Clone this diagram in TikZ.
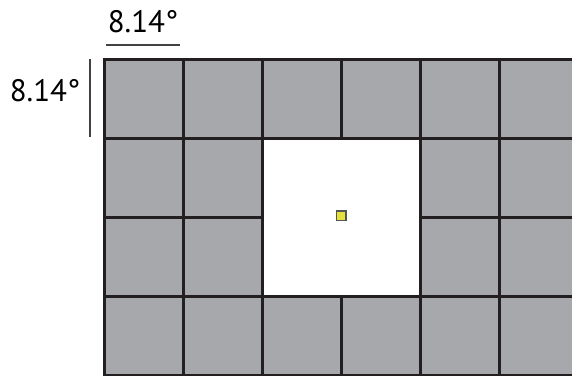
\documentclass[tikz,border=0pt]{standalone}
\usepackage{fontspec}
\setmainfont{PT Sans}
\definecolor{cellgray}{HTML}{A7A8AB}
\definecolor{gridline}{HTML}{231F20}
\definecolor{fixyellow}{HTML}{E6E03C}
\definecolor{fixborder}{HTML}{555555}
\begin{document}
\begin{tikzpicture}[x=1pt,y=-1pt,
  cell/.style={draw=gridline,fill=cellgray,line width=3.6pt,minimum size=79pt,inner sep=0pt,outer sep=0pt},
  hole/.style={draw=gridline,fill=white,line width=3.6pt,minimum size=158pt,inner sep=0pt,outer sep=0pt},
  fixpt/.style={draw=fixborder,fill=fixyellow,line width=1.4pt,minimum size=9.5pt,inner sep=0pt},
  dimline/.style={draw=gridline!85,line width=1.6pt},
  dimlabel/.style={font=\fontsize{31}{34}\selectfont,text=black,inner sep=0pt}]
\useasboundingbox (0,0) rectangle (572,375);
\fill[white] (0,0) rectangle (572,375);
\begin{scope}
\clip (0,0) rectangle (572,375);
\foreach \i in {0,...,5}{
  \foreach \j in {0,...,3}{
    \pgfmathtruncatemacro{\inhole}{(\i==2 || \i==3) && (\j==1 || \j==2) ? 1 : 0}
    \ifnum\inhole=0
      \node[cell] (c-\i-\j) at (144+79*\i,99+79*\j) {};
    \fi
  }
}
\node[hole] (hole) at (341.5,217.5) {};
\end{scope}
\node[fixpt] (fix) at (341.3,215.7) {};
\coordinate (ta) at (106,45);
\coordinate (tb) at (180,45);
\coordinate (la) at (90,59);
\coordinate (lb) at (90,137);
\draw[dimline] (ta) -- (tb);
\draw[dimline] (la) -- (lb);
\node[dimlabel] (toplabel) at (143,22) {8.14°};
\node[dimlabel] (leftlabel) at (45,91) {8.14°};
\end{tikzpicture}
\end{document}
